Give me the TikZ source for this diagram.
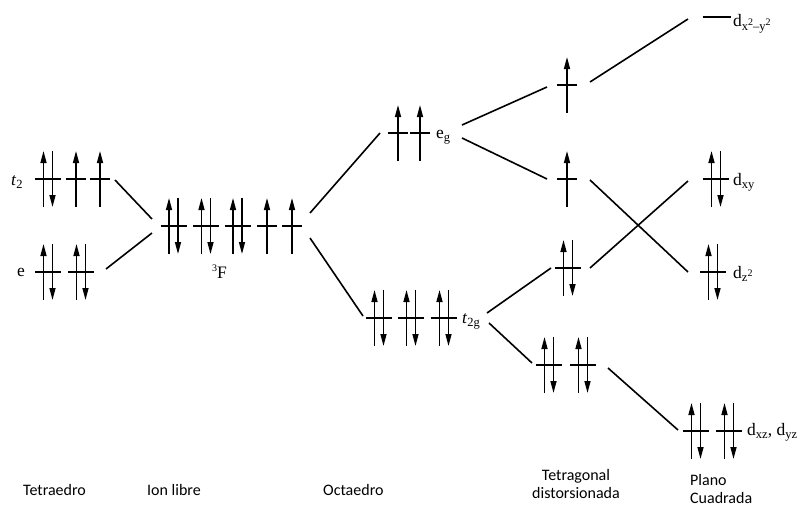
\documentclass[tikz,border=0pt]{standalone}
\usepackage{fontspec}
\setmainfont{Liberation Serif}
\newfontfamily\labelsans{Carlito}
\usetikzlibrary{arrows.meta}

\tikzset{
  lev/.style={line width=1.5pt},
  spin/.style={line width=1.5pt, -{Triangle[length=12pt,width=6pt]}},
  link/.style={line width=1.6pt},
  sym/.style={font=\fontsize{17.5}{20}\selectfont, inner sep=0pt, anchor=base west},
  geo/.style={font=\labelsans\fontsize{16}{17.5}\selectfont, inner sep=0pt, anchor=base west, align=left},
}

% orbital labels: subscript and small superscript
\newcommand\lsub[1]{\raisebox{-0.22em}{\fontsize{12.5}{12.5}\selectfont #1}}
\newcommand\lsup[1]{\raisebox{0.4em}{\fontsize{10}{10}\selectfont #1}}

% orbital with two paired electrons
\newcommand\orbpair[2]{%
  \draw[lev] (#1-13,#2) -- (#1+13,#2);
  \draw[spin] (#1-4.5,#2+28) -- (#1-4.5,#2-28);
  \draw[spin] (#1+4.5,#2-28) -- (#1+4.5,#2+28);}
% orbital with one unpaired electron
\newcommand\orbup[2]{%
  \draw[lev] (#1-10,#2) -- (#1+10,#2);
  \draw[spin] (#1,#2+28) -- (#1,#2-28);}
% empty orbital
\newcommand\orbempty[2]{%
  \draw[lev] (#1-14,#2) -- (#1+14,#2);}

\begin{document}
\begin{tikzpicture}[x=1pt,y=-1pt]
\useasboundingbox (0,0) rectangle (807,506);

% ---- tetrahedral field
\orbpair{48}{179}\orbup{76}{179}\orbup{100}{179}
\orbpair{48}{272}\orbpair{81}{272}
\node[sym] (t2) at (11,185) {\textit{t}\lsub{2}};
\node[sym] (e) at (17,276) {e};

% ---- free ion
\orbpair{173.5}{226}\orbpair{206}{226}\orbpair{237.5}{226}\orbup{267}{226}\orbup{292}{226}
\node[sym] (F) at (212,278) {\lsup{3}F};

% ---- octahedral field
\orbup{398}{133}\orbup{420}{133}
\orbpair{379}{318}\orbpair{411}{318}\orbpair{444}{318}
\node[sym] (eg) at (436,138) {e\lsub{g}};
\node[sym] (t2g) at (462,323) {\textit{t}\lsub{2g}};

% ---- tetragonal distortion
\orbup{567}{85}
\orbup{567}{179}
\orbpair{568}{268}
\orbpair{549}{365}\orbpair{583}{365}

% ---- square planar
\orbempty{716.5}{17}
\orbpair{716}{179}
\orbpair{713}{272}
\orbpair{696}{431}\orbpair{729}{431}
\node[sym] (dx2y2) at (733,27) {d\lsub{x\lsup{2}–y\lsup{2}}};
\node[sym] (dxy) at (733,185) {d\lsub{xy}};
\node[sym] (dz2) at (733,278) {d\lsub{z\lsup{2}}};
\node[sym] (dxz) at (747,435) {d\lsub{xz}, d\lsub{yz}};

% ---- correlation line end points
\coordinate (tdT) at (115,180);
\coordinate (tdE) at (106,269);
\coordinate (fiLa) at (152,219);
\coordinate (fiLb) at (152,233);
\coordinate (fiRa) at (310,213);
\coordinate (fiRb) at (310,238);
\coordinate (ohEl) at (380,133);
\coordinate (ohEr1) at (462,125);
\coordinate (ohEr2) at (462,138);
\coordinate (ohTl) at (363,316);
\coordinate (ohTr1) at (487,313);
\coordinate (ohTr2) at (489,323);
\coordinate (tgAl) at (547,87);
\coordinate (tgBl) at (547,179);
\coordinate (tgCl) at (551,268);
\coordinate (tgDl) at (532,363);
\coordinate (tgAr) at (590,82);
\coordinate (tgBr) at (590,180);
\coordinate (tgCr) at (590,268);
\coordinate (tgDr) at (608,368);
\coordinate (spA) at (688,19);
\coordinate (spB) at (688,181);
\coordinate (spC) at (688,272);
\coordinate (spD) at (678,430);

\draw[link] (tdT) -- (fiLa);
\draw[link] (tdE) -- (fiLb);
\draw[link] (fiRa) -- (ohEl);
\draw[link] (fiRb) -- (ohTl);
\draw[link] (ohEr1) -- (tgAl);
\draw[link] (ohEr2) -- (tgBl);
\draw[link] (ohTr1) -- (tgCl);
\draw[link] (ohTr2) -- (tgDl);
\draw[link] (tgAr) -- (spA);
\draw[link] (tgBr) -- (spC);
\draw[link] (tgCr) -- (spB);
\draw[link] (tgDr) -- (spD);

% ---- geometry captions
\node[geo] (capTd) at (23,495) {Tetraedro};
\node[geo] (capFi) at (147,495) {Ion libre};
\node[geo] (capOh) at (323,495) {Octaedro};
\node[geo, align=center, anchor=base] (capTg) at (576,498) {Tetragonal\\distorsionada};
\node[geo] (capSp) at (690,503) {Plano\\Cuadrada};
\end{tikzpicture}
\end{document}
